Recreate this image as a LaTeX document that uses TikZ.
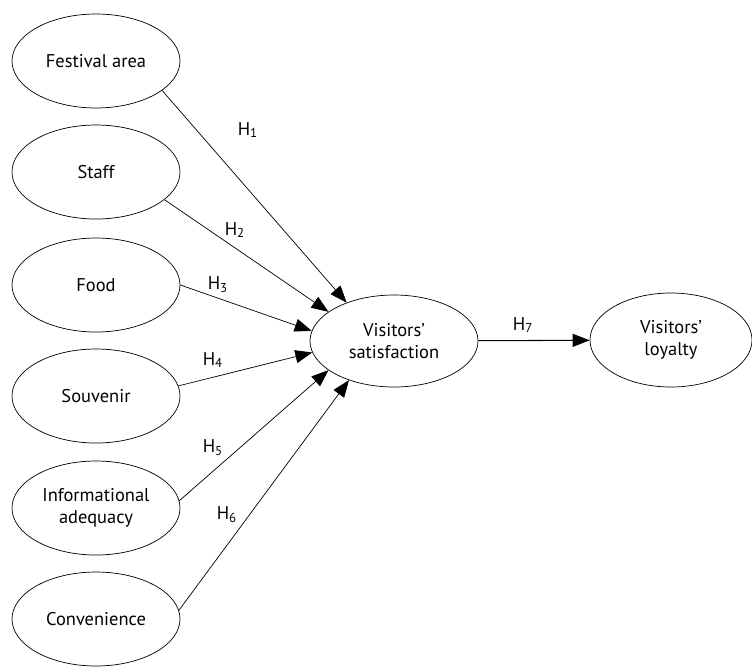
\documentclass[tikz,border=0pt]{standalone}
\usepackage{fontspec}
\setsansfont{PT Sans}
\usetikzlibrary{arrows.meta}
\usetikzlibrary{shapes}

\begin{document}
\begin{tikzpicture}[x = 0.2mm, y = -0.2mm, font=\sffamily\fontsize{10.5}{12.5}\selectfont]
	\tikzstyle{factorStyle}=[shape = ellipse, draw, thin, minimum width = 33.6mm, minimum height = 18.8mm, inner sep = 1pt, align = center]
	\tikzstyle{pathStyle}=[thin, -{Triangle[length = 3.4mm, width = 2.6mm]}]
	\tikzstyle{hypStyle}=[inner sep = 0pt]
	\useasboundingbox (0,0) rectangle (752,666);
	\node[factorStyle] (area) at (96,61) {Festival area};
	\node[factorStyle] (staff) at (96,172) {Staff};
	\node[factorStyle] (food) at (96,285) {Food};
	\node[factorStyle] (souvenir) at (96,396) {Souvenir};
	\node[factorStyle] (info) at (96,508) {Informational\\adequacy};
	\node[factorStyle] (conv) at (96,619) {Convenience};
	\node[factorStyle, minimum height = 18.4mm] (satis) at (394,341) {Visitors'\\satisfaction};
	\node[factorStyle, minimum width = 32.4mm] (loyal) at (671,340) {Visitors'\\loyalty};
	\draw[pathStyle] (area.-24) -- (satis.141);
	\draw[pathStyle] (staff.-22) -- (satis.156);
	\draw[pathStyle] (food.0) -- (satis.173);
	\draw[pathStyle] (souvenir.7) -- (satis.188);
	\draw[pathStyle] (info.5) -- (satis.204);
	\draw[pathStyle] (conv.6) -- (satis.221);
	\draw[pathStyle, semithick] (satis) -- (loyal);
	\node[hypStyle] (h1) at (248,130) {H\textsubscript{1}};
	\node[hypStyle] (h2) at (235,230) {H\textsubscript{2}};
	\node[hypStyle] (h3) at (218,285) {H\textsubscript{3}};
	\node[hypStyle] (h4) at (213,360) {H\textsubscript{4}};
	\node[hypStyle] (h5) at (213,448) {H\textsubscript{5}};
	\node[hypStyle] (h6) at (227,515) {H\textsubscript{6}};
	\node[hypStyle] (h7) at (523,325) {H\textsubscript{7}};
\end{tikzpicture}
\end{document}
